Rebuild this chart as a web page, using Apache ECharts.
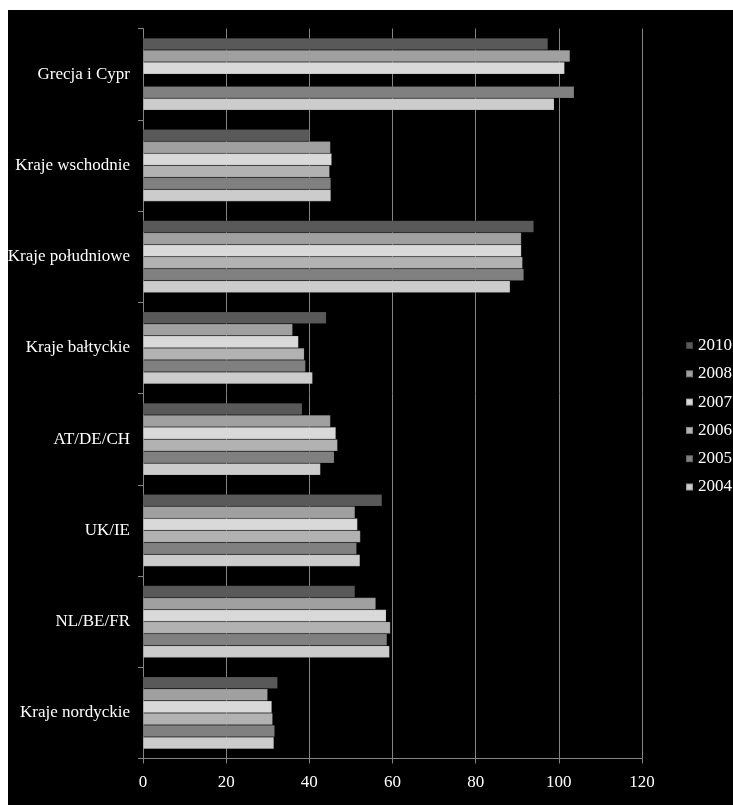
<!DOCTYPE html>
<html>
<head>
<meta charset="utf-8">
<script src="https://cdn.jsdelivr.net/npm/echarts@6/dist/echarts.min.js"></script>
<style>
  html, body { margin: 0; padding: 0; background: #ffffff; width: 733px; height: 805px; overflow: hidden; }
  #chart { position: absolute; left: 8px; top: 10px; width: 725px; height: 795px; background: #000000; }
</style>
</head>
<body>
<div id="chart"></div>
<script>
// Regions, listed from the bottom of the axis to the top
const categories = ['Kraje nordyckie', 'NL/BE/FR', 'UK/IE', 'AT/DE/CH', 'Kraje bałtyckie', 'Kraje południowe', 'Kraje wschodnie', 'Grecja i Cypr'];

const years = ['2010', '2008', '2007', '2006', '2005', '2004'];

const values2010 = [32.4, 51.0, 57.5, 38.3, 44.1, 94.0, 40.0, 97.4];
const values2008 = [30.0, 56.0, 51.0, 45.1, 36.0, 91.0, 45.1, 102.7];
const values2007 = [31.0, 58.5, 51.6, 46.4, 37.4, 91.0, 45.4, 101.4];
const values2006 = [31.2, 59.5, 52.3, 46.8, 38.8, 91.3, 44.9, null];
const values2005 = [31.7, 58.7, 51.4, 46.0, 39.1, 91.6, 45.2, 103.7];
const values2004 = [31.5, 59.3, 52.2, 42.7, 40.8, 88.3, 45.2, 98.9];

const xTicks = { min: 0, max: 120, interval: 20 };

const valuesByYear = {
  '2010': values2010, '2008': values2008, '2007': values2007,
  '2006': values2006, '2005': values2005, '2004': values2004
};
const colors = {
  '2010': '#595959', '2008': '#a0a0a0', '2007': '#d9d9d9',
  '2006': '#b2b2b2', '2005': '#808080', '2004': '#cccccc'
};

const FONT = '"Liberation Serif", "Times New Roman", serif';

const chart = echarts.init(document.getElementById('chart'), null, { renderer: 'canvas' });

chart.setOption({
  backgroundColor: '#000000',
  animation: false,
  textStyle: { fontFamily: FONT },
  grid: { left: 135, right: 91, top: 18.5, bottom: 46.5, containLabel: false, outerBoundsMode: 'none' },
  legend: {
    orient: 'vertical',
    left: 672,
    top: 322,
    itemWidth: 7,
    itemHeight: 7,
    itemGap: 11.3,
    icon: 'rect',
    data: years,
    textStyle: { color: '#ffffff', fontSize: 17, lineHeight: 17, fontFamily: FONT }
  },
  xAxis: {
    type: 'value',
    min: xTicks.min,
    max: xTicks.max,
    interval: xTicks.interval,
    axisLine: { show: true, lineStyle: { color: '#848484', width: 1 } },
    axisTick: { show: true, length: 5, lineStyle: { color: '#848484' } },
    splitLine: { show: true, lineStyle: { color: '#848484', width: 1 } },
    axisLabel: { color: '#ffffff', fontSize: 17, fontFamily: FONT, margin: 16 }
  },
  yAxis: {
    type: 'category',
    data: categories,
    axisLine: { show: true, lineStyle: { color: '#848484', width: 1 } },
    axisTick: { show: true, length: 5, lineStyle: { color: '#848484' } },
    axisLabel: { color: '#ffffff', fontSize: 17, fontFamily: FONT, margin: 13 },
    splitLine: { show: false }
  },
  series: years.map(y => ({
    name: y,
    type: 'bar',
    data: valuesByYear[y],
    barGap: '0%',
    barCategoryGap: '21%',
    itemStyle: { color: colors[y], borderColor: 'rgba(0,0,0,0.25)', borderWidth: 0.5 }
  }))
});
</script>
</body>
</html>
